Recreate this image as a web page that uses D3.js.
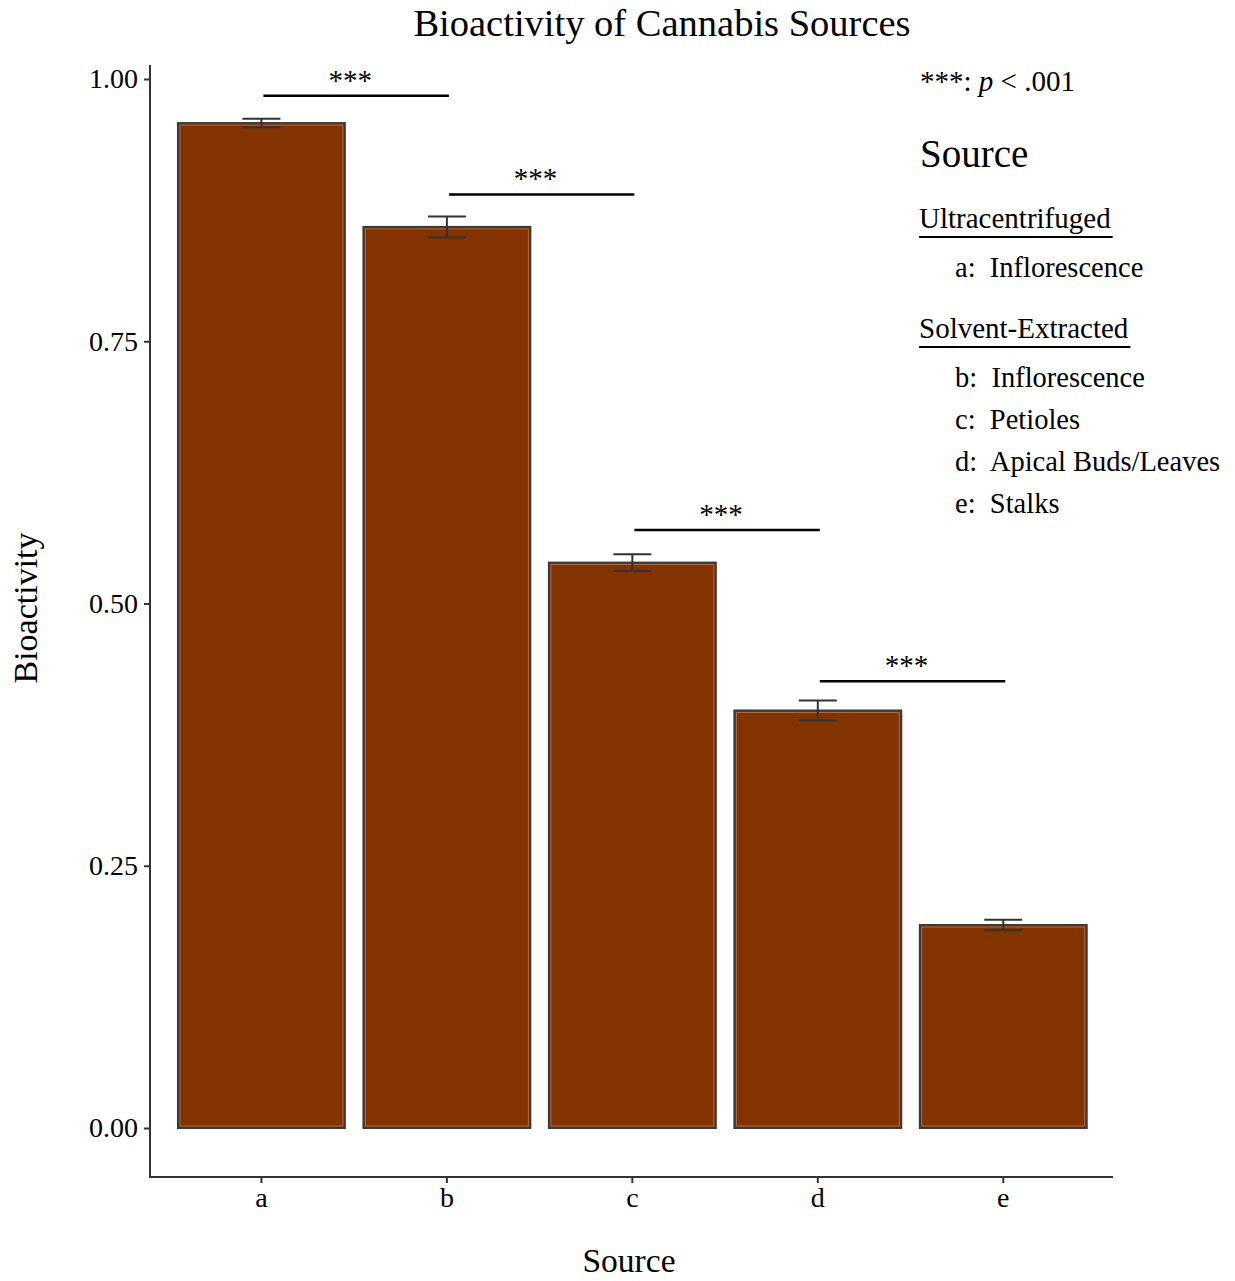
<!DOCTYPE html>
<html><head><meta charset="utf-8">
<script src="https://cdn.jsdelivr.net/npm/d3@7"></script>
<style>body{margin:0;background:#fff}text{font-family:"Liberation Serif","Times New Roman",serif;fill:#000}</style>
</head><body><svg id="c" width="1235" height="1281"></svg>
<script>
const categories = ["a","b","c","d","e"];
const values = [0.958, 0.859, 0.539, 0.398, 0.1935];
const errors = [0.004, 0.010, 0.008, 0.0095, 0.005];
const yTicks = [0, 0.25, 0.5, 0.75, 1.0];
const sigPairs = [["a","b"],["b","c"],["c","d"],["d","e"]];
const sigLevels = [0.984, 0.890, 0.570, 0.426];
const sigLabel = "***";
const legendGroups = [
  {title:"Ultracentrifuged", items:["a:  Inflorescence"]},
  {title:"Solvent-Extracted", items:["b:  Inflorescence","c:  Petioles","d:  Apical Buds/Leaves","e:  Stalks"]}
];

const svg = d3.select("#c");
const y = d3.scaleLinear().domain([0,1]).range([1128,79]);
const x = d3.scaleBand().domain(categories).range([168.7,1096]).paddingInner(0.1).paddingOuter(0.05);
const axisCol = "#333";

// title
svg.append("text").attr("x",662).attr("y",36).attr("text-anchor","middle").attr("font-size",38.5).text("Bioactivity of Cannabis Sources");

// bars
svg.append("g").selectAll("rect").data(categories).join("rect")
  .attr("x",d=>x(d)).attr("width",x.bandwidth())
  .attr("y",(d,i)=>y(values[i])).attr("height",(d,i)=>y(0)-y(values[i]))
  .attr("fill","#833300").attr("stroke","#3a3a3a").attr("stroke-width",2);
svg.append("g").selectAll("rect").data(categories).join("rect")
  .attr("x",d=>x(d)+2).attr("width",x.bandwidth()-4)
  .attr("y",(d,i)=>y(values[i])+2).attr("height",(d,i)=>y(0)-y(values[i])-4)
  .attr("fill","none").attr("stroke","#b07a5a").attr("stroke-width",0.8);

// error bars
const eg = svg.append("g").attr("stroke","#333").attr("stroke-width",2);
categories.forEach((c,i)=>{
  const cx = x(c)+x.bandwidth()/2, hw = 19;
  const t = y(values[i]+errors[i]), b = y(values[i]-errors[i]);
  eg.append("line").attr("x1",cx).attr("x2",cx).attr("y1",t).attr("y2",b);
  eg.append("line").attr("x1",cx-hw).attr("x2",cx+hw).attr("y1",t).attr("y2",t);
  eg.append("line").attr("x1",cx-hw).attr("x2",cx+hw).attr("y1",b).attr("y2",b);
});

// significance
sigPairs.forEach((p,i)=>{
  const x1 = x(p[0])+x.bandwidth()/2+2, x2 = x(p[1])+x.bandwidth()/2+2;
  const yy = y(sigLevels[i]);
  svg.append("line").attr("x1",x1).attr("x2",x2).attr("y1",yy).attr("y2",yy).attr("stroke","#000").attr("stroke-width",2.5);
  svg.append("text").attr("x",(x1+x2)/2-6).attr("y",yy-6).attr("text-anchor","middle").attr("font-size",29).text(sigLabel);
});

// y axis
const ya = svg.append("g").attr("transform","translate(150,0)")
  .call(d3.axisLeft(y).tickValues(yTicks).tickFormat(d3.format(".2f")).tickSize(6).tickSizeOuter(0));
ya.select(".domain").remove();
ya.selectAll(".tick line").attr("stroke",axisCol).attr("stroke-width",2);
ya.selectAll(".tick text").attr("font-size",28).attr("fill","#000").attr("x",-12);
svg.append("line").attr("x1",150).attr("x2",150).attr("y1",65).attr("y2",1177).attr("stroke",axisCol).attr("stroke-width",2);

// x axis
const xa = svg.append("g").attr("transform","translate(0,1177)")
  .call(d3.axisBottom(x).tickSize(6).tickSizeOuter(0));
xa.select(".domain").remove();
xa.selectAll(".tick line").attr("stroke",axisCol).attr("stroke-width",2);
xa.selectAll(".tick text").attr("font-size",28).attr("fill","#000").attr("y",10);
svg.append("line").attr("x1",149).attr("x2",1113).attr("y1",1177).attr("y2",1177).attr("stroke",axisCol).attr("stroke-width",2);

// axis titles
svg.append("text").attr("x",629).attr("y",1272).attr("text-anchor","middle").attr("font-size",33.5).text("Source");
svg.append("text").attr("transform","translate(37,608) rotate(-90)").attr("text-anchor","middle").attr("font-size",34).text("Bioactivity");

// legend
const pt = svg.append("text").attr("x",920).attr("y",91).attr("font-size",29);
pt.append("tspan").text("***: ");
pt.append("tspan").attr("font-style","italic").text("p");
pt.append("tspan").text(" < .001");
svg.append("text").attr("x",920).attr("y",167).attr("font-size",39).text("Source");
let ly = 228;
legendGroups.forEach((g,gi)=>{
  const t = svg.append("text").attr("x",919).attr("y",ly).attr("font-size",29).text(g.title);
  const w = t.node().getComputedTextLength();
  svg.append("line").attr("x1",919).attr("x2",919+w+2).attr("y1",ly+9).attr("y2",ly+9).attr("stroke","#000").attr("stroke-width",2);
  ly += 49;
  g.items.forEach(it=>{
    svg.append("text").attr("x",955).attr("y",ly).attr("font-size",28.5).style("white-space","pre").text(it);
    ly += 42;
  });
  ly += 19;
});
</script></body></html>
